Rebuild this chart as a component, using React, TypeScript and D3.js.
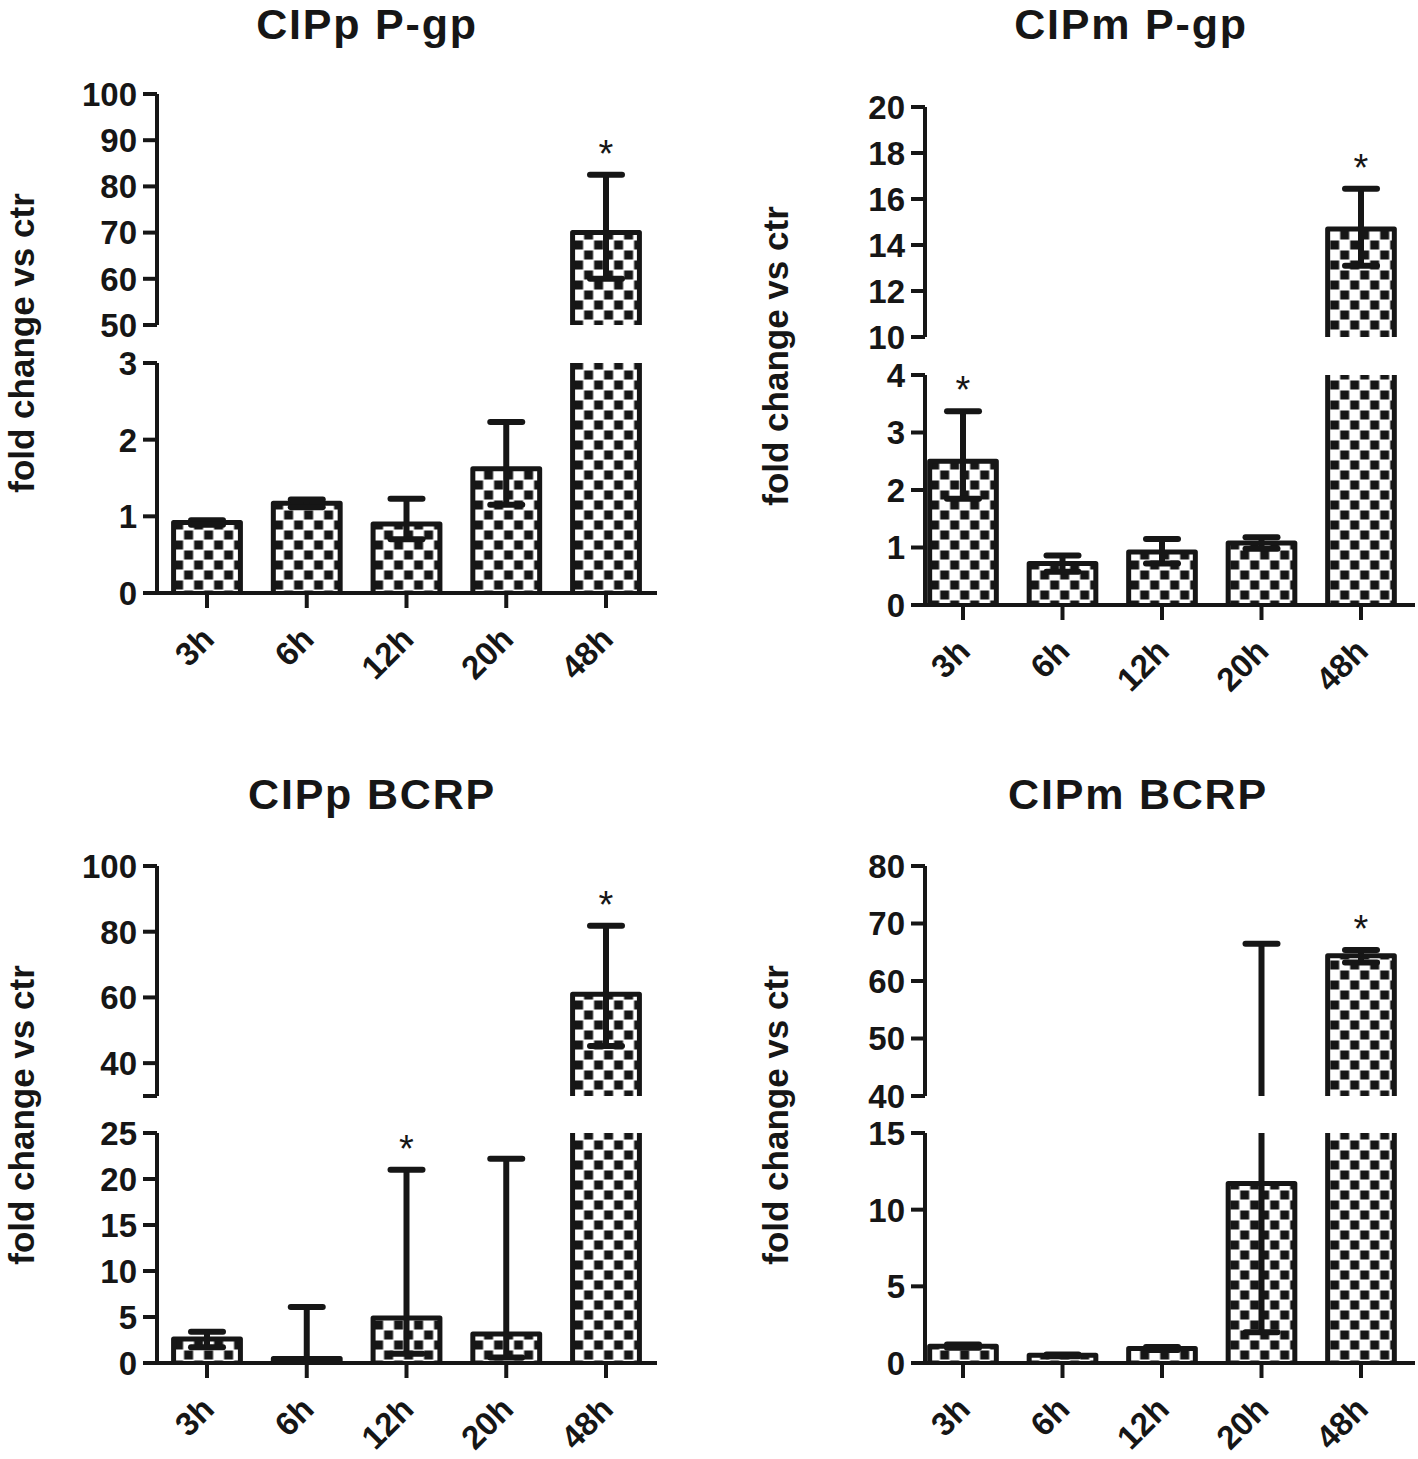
import React from 'react';
import * as d3 from 'd3';

// ---------- data ----------
const categories = ['3h', '6h', '12h', '20h', '48h'];

// CIPp P-gp
const pgpCIPpMean = [0.92, 1.17, 0.9, 1.62, 70];
const pgpCIPpHi = [0.95, 1.22, 1.23, 2.23, 82.5];
const pgpCIPpLo = [0.89, 1.12, 0.7, 1.15, 60];
const pgpCIPpStars = [false, false, false, false, true];
const pgpCIPpLowerTicks = [0, 1, 2, 3];
const pgpCIPpUpperTicks = [50, 60, 70, 80, 90, 100];
const pgpCIPpUpperLabels = ['50', '60', '70', '80', '90', '100'];

// CIPm P-gp
const pgpCIPmMean = [2.5, 0.72, 0.92, 1.08, 14.7];
const pgpCIPmHi = [3.37, 0.86, 1.15, 1.18, 16.45];
const pgpCIPmLo = [1.85, 0.58, 0.72, 0.98, 13.1];
const pgpCIPmStars = [true, false, false, false, true];
const pgpCIPmLowerTicks = [0, 1, 2, 3, 4];
const pgpCIPmUpperTicks = [10, 12, 14, 16, 18, 20];
const pgpCIPmUpperLabels = ['10', '12', '14', '16', '18', '20'];

// CIPp BCRP
const bcrpCIPpMean = [2.6, 0.5, 4.9, 3.15, 61];
const bcrpCIPpHi = [3.4, 6.1, 21, 22.2, 81.8];
const bcrpCIPpLo = [1.7, 0, 1, 0.6, 45.2];
const bcrpCIPpStars = [false, false, true, false, true];
const bcrpCIPpLowerTicks = [0, 5, 10, 15, 20, 25];
const bcrpCIPpUpperTicks = [30, 40, 60, 80, 100];
const bcrpCIPpUpperLabels = ['', '40', '60', '80', '100'];

// CIPm BCRP
const bcrpCIPmMean = [1.1, 0.5, 0.95, 11.7, 64.4];
const bcrpCIPmHi = [1.2, 0.56, 1.05, 66.5, 65.4];
const bcrpCIPmLo = [1.0, 0.44, 0.85, 2, 63.2];
const bcrpCIPmStars = [false, false, false, false, true];
const bcrpCIPmLowerTicks = [0, 5, 10, 15];
const bcrpCIPmUpperTicks = [40, 50, 60, 70, 80];
const bcrpCIPmUpperLabels = ['40', '50', '60', '70', '80'];

// ---------- layout ----------
const INK = '#161616';
const FONT = 'Liberation Sans, Arial, Helvetica, sans-serif';

type Seg = { domain: [number, number]; range: [number, number]; ticks: number[]; labels: string[] };
type Panel = {
  title: string; titleX: number; titleY: number;
  axisX: number; xLine: [number, number]; firstCenter: number; step: number;
  lower: Seg; upper: Seg;
  mean: number[]; hi: number[]; lo: number[]; stars: boolean[];
  yLabelX: number; yLabelY: number;
};

const panels: Panel[] = [
  {
    title: 'CIPp P-gp', titleX: 367, titleY: 39,
    axisX: 157, xLine: [143, 657], firstCenter: 207, step: 99.75,
    lower: { domain: [0, 3], range: [593, 363], ticks: pgpCIPpLowerTicks, labels: pgpCIPpLowerTicks.map(String) },
    upper: { domain: [50, 100], range: [325, 94], ticks: pgpCIPpUpperTicks, labels: pgpCIPpUpperLabels },
    mean: pgpCIPpMean, hi: pgpCIPpHi, lo: pgpCIPpLo, stars: pgpCIPpStars,
    yLabelX: 34, yLabelY: 343,
  },
  {
    title: 'CIPm P-gp', titleX: 1131, titleY: 39,
    axisX: 925, xLine: [913, 1415], firstCenter: 963, step: 99.5,
    lower: { domain: [0, 4], range: [605, 375], ticks: pgpCIPmLowerTicks, labels: pgpCIPmLowerTicks.map(String) },
    upper: { domain: [10, 20], range: [337, 107], ticks: pgpCIPmUpperTicks, labels: pgpCIPmUpperLabels },
    mean: pgpCIPmMean, hi: pgpCIPmHi, lo: pgpCIPmLo, stars: pgpCIPmStars,
    yLabelX: 788, yLabelY: 356,
  },
  {
    title: 'CIPp BCRP', titleX: 372, titleY: 809,
    axisX: 157, xLine: [143, 657], firstCenter: 207, step: 99.75,
    lower: { domain: [0, 25], range: [1363, 1133], ticks: bcrpCIPpLowerTicks, labels: bcrpCIPpLowerTicks.map(String) },
    upper: { domain: [30, 100], range: [1096, 866], ticks: bcrpCIPpUpperTicks, labels: bcrpCIPpUpperLabels },
    mean: bcrpCIPpMean, hi: bcrpCIPpHi, lo: bcrpCIPpLo, stars: bcrpCIPpStars,
    yLabelX: 34, yLabelY: 1115,
  },
  {
    title: 'CIPm BCRP', titleX: 1138, titleY: 809,
    axisX: 925, xLine: [913, 1415], firstCenter: 963, step: 99.5,
    lower: { domain: [0, 15], range: [1363, 1133], ticks: bcrpCIPmLowerTicks, labels: bcrpCIPmLowerTicks.map(String) },
    upper: { domain: [40, 80], range: [1096, 866], ticks: bcrpCIPmUpperTicks, labels: bcrpCIPmUpperLabels },
    mean: bcrpCIPmMean, hi: bcrpCIPmHi, lo: bcrpCIPmLo, stars: bcrpCIPmStars,
    yLabelX: 788, yLabelY: 1115,
  },
];

const BAR_SW = 5;
const ERR_SW = 6;
const CAP_HALF = 16;
const TICK_LEN = 14;

function PanelView({ p, idx }: { p: Panel; idx: number }) {
  const r0 = p.firstCenter - p.step / 2;
  const x = d3.scaleBand<string>().domain(categories)
    .range([r0, r0 + p.step * categories.length])
    .paddingInner(0.33).paddingOuter(0.165);
  const bw = x.bandwidth();
  const segs = [p.lower, p.upper].map((s) => ({
    ...s,
    y: d3.scaleLinear().domain(s.domain).range(s.range),
  }));
  const baseY = p.lower.range[0];

  const bars: React.ReactNode[] = [];
  const errs: React.ReactNode[] = [];
  const stars: React.ReactNode[] = [];

  categories.forEach((c, i) => {
    const x0 = x(c)!;
    const x1 = x0 + bw;
    const cx = x0 + bw / 2;
    const v = p.mean[i];
    segs.forEach((s, si) => {
      const d0 = si === 0 ? 0 : s.domain[0];
      const d1 = s.domain[1];
      if (v <= d0) return;
      const top = Math.min(v, d1);
      const yb = s.y(d0);
      const yt = s.y(top);
      const closed = v <= d1;
      const path = closed
        ? `M${x0},${yb}L${x0},${yt}L${x1},${yt}L${x1},${yb}`
        : `M${x0},${yb}L${x0},${yt}M${x1},${yt}L${x1},${yb}`;
      bars.push(
        <g key={`b${i}-${si}`}>
          <rect x={x0} y={yt} width={bw} height={yb - yt} fill={`url(#chk${idx})`} />
          <path d={path} fill="none" stroke={INK} strokeWidth={BAR_SW} strokeLinejoin="round" />
        </g>
      );
    });
    // error bars
    const hi = p.hi[i];
    const lo = p.lo[i];
    segs.forEach((s, si) => {
      const d0 = s.domain[0];
      const d1 = s.domain[1];
      const a = Math.max(lo, d0);
      const b = Math.min(hi, d1);
      if (b <= a) return;
      errs.push(
        <line key={`ev${i}-${si}`} x1={cx} x2={cx} y1={s.y(a)} y2={s.y(b)} stroke={INK} strokeWidth={ERR_SW} />
      );
      if (hi >= d0 && hi <= d1) {
        errs.push(
          <line key={`eh${i}-${si}`} x1={cx - CAP_HALF} x2={cx + CAP_HALF} y1={s.y(hi)} y2={s.y(hi)}
            stroke={INK} strokeWidth={ERR_SW} strokeLinecap="round" />
        );
      }
      if (lo > 0 && lo >= d0 && lo <= d1) {
        errs.push(
          <line key={`el${i}-${si}`} x1={cx - CAP_HALF} x2={cx + CAP_HALF} y1={s.y(lo)} y2={s.y(lo)}
            stroke={INK} strokeWidth={ERR_SW} strokeLinecap="round" />
        );
      }
    });
    if (p.stars[i]) {
      const s = hi > p.lower.domain[1] ? segs[1] : segs[0];
      stars.push(
        <text key={`s${i}`} x={cx} y={s.y(hi) - 8} textAnchor="middle" fontSize={38}
          fontFamily={FONT} fill={INK}>*</text>
      );
    }
  });

  return (
    <g>
      <defs>
        <pattern id={`chk${idx}`} patternUnits="userSpaceOnUse" width={20} height={20}
          x={x(categories[0])!} y={0}>
          <rect width={20} height={20} fill="#fff" />
          <rect x={0.5} y={0.5} width={9} height={9} fill={INK} />
          <rect x={10.5} y={10.5} width={9} height={9} fill={INK} />
        </pattern>
      </defs>
      <text x={p.titleX} y={p.titleY} textAnchor="middle" fontSize={43} fontWeight="bold"
        letterSpacing={1.8} fontFamily={FONT} fill={INK}>{p.title}</text>
      <text transform={`translate(${p.yLabelX},${p.yLabelY}) rotate(-90)`} textAnchor="middle"
        fontSize={35} fontWeight="bold" fontFamily={FONT} fill={INK}>fold change vs ctr</text>
      {bars}
      {errs}
      {stars}
      {/* y axis segments */}
      {segs.map((s, si) => (
        <g key={`ax${si}`}>
          <line x1={p.axisX} x2={p.axisX} y1={s.range[0]} y2={s.range[1]} stroke={INK} strokeWidth={4} />
          {s.ticks.map((t, ti) => (
            <g key={ti}>
              <line x1={p.axisX - TICK_LEN} x2={p.axisX} y1={s.y(t)} y2={s.y(t)} stroke={INK} strokeWidth={4} />
              {s.labels[ti] ? (
                <text x={p.axisX - TICK_LEN - 6} y={s.y(t)} dy="0.36em" textAnchor="end" fontSize={33}
                  fontWeight="bold" fontFamily={FONT} fill={INK}>{s.labels[ti]}</text>
              ) : null}
            </g>
          ))}
        </g>
      ))}
      {/* x axis */}
      <line x1={p.xLine[0]} x2={p.xLine[1]} y1={baseY} y2={baseY} stroke={INK} strokeWidth={4} />
      {categories.map((c) => {
        const cx = x(c)! + bw / 2;
        return (
          <g key={c}>
            <line x1={cx} x2={cx} y1={baseY} y2={baseY + 15} stroke={INK} strokeWidth={4} />
            <text transform={`translate(${cx + 9},${baseY + 48}) rotate(-45)`} textAnchor="end"
              fontSize={33} fontWeight="bold" fontFamily={FONT} fill={INK}>{c}</text>
          </g>
        );
      })}
    </g>
  );
}

export default function App() {
  return (
    <svg width={1418} height={1459} viewBox="0 0 1418 1459"
      style={{ position: 'absolute', left: 0, top: 0, background: '#fff' }}>
      <rect width={1418} height={1459} fill="#fff" />
      {panels.map((p, i) => <PanelView key={i} p={p} idx={i} />)}
    </svg>
  );
}
